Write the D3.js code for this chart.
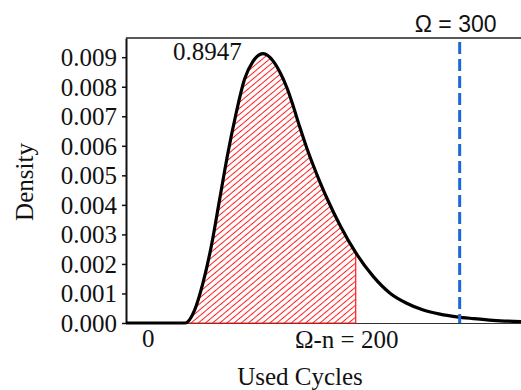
<!DOCTYPE html>
<html>
<head>
<meta charset="utf-8">
<script src="https://cdn.jsdelivr.net/npm/d3@7"></script>
<style>
  body { margin: 0; background: #fff; }
  text { fill: #111; }
</style>
</head>
<body>
<div id="chart"></div>
<script>
// values
var cycles  = [-21, 36, 45, 53, 61, 69, 77, 85, 93, 101, 111, 121, 127, 134, 140, 146, 153, 159, 166, 172, 185, 200, 217, 233, 249, 265, 281, 297, 313, 332, 359];
var density = [0, 0, 0.00044, 0.00135, 0.00259, 0.00417, 0.00575, 0.00711, 0.00825, 0.00885, 0.00912, 0.00885, 0.00850, 0.00795, 0.00733, 0.00665, 0.00592, 0.00535, 0.00474, 0.00425, 0.00330, 0.00238, 0.00157, 0.00101, 0.00067, 0.00044, 0.00030, 0.00021, 0.00015, 0.00009, 0.00005];
var yTicks = [0, 0.001, 0.002, 0.003, 0.004, 0.005, 0.006, 0.007, 0.008, 0.009];
var xTicks = [0];
var omega = 300;
var usedLimit = 200;   // Omega - n
var peakLabel = '0.8947';

var width = 521, height = 390;
var margins = {left: 126, top: 38, right: 0, bottom: 67};

var svg = d3.select('#chart').append('svg')
    .attr('width', width)
    .attr('height', height);

var x = d3.scaleLinear().domain([-21, 359]).range([margins.left, width - margins.right]);
var y = d3.scaleLinear().domain([0, 0.00965]).range([height - margins.bottom, margins.top]);

var pts = cycles.map(function(c, i) { return {c: c, d: density[i]}; });

// hatch for the used part
var defs = svg.append('defs');
var pat = defs.append('pattern')
    .attr('id', 'hatch')
    .attr('patternUnits', 'userSpaceOnUse')
    .attr('width', 4.6)
    .attr('height', 4.6)
    .attr('patternTransform', 'rotate(-40)');
pat.append('line')
    .attr('x1', 0).attr('y1', 2.3)
    .attr('x2', 4.6).attr('y2', 2.3)
    .attr('stroke', '#ff1a1a')
    .attr('stroke-width', 1);

// top frame line
svg.append('line')
    .attr('x1', x.range()[0]).attr('x2', x.range()[1])
    .attr('y1', y.range()[1]).attr('y2', y.range()[1])
    .attr('stroke', '#222')
    .attr('stroke-width', 1.5);

// x axis
var xAxis = svg.append('g')
    .attr('transform', 'translate(0,' + y(0) + ')')
    .call(d3.axisBottom(x).tickValues(xTicks).tickSize(0).tickSizeOuter(0).tickPadding(6));
xAxis.select('.domain').attr('stroke', '#333').attr('stroke-width', 1.2);
xAxis.selectAll('text')
    .style('font-family', '"Liberation Serif", "Times New Roman", serif')
    .style('font-size', '25px')
    .attr('fill', '#111');

// y axis
var yAxis = svg.append('g')
    .attr('transform', 'translate(' + x.range()[0] + ',0)')
    .call(d3.axisLeft(y).tickValues(yTicks).tickFormat(d3.format('.3f')).tickSize(4).tickSizeOuter(0).tickPadding(5));
yAxis.select('.domain').attr('stroke', '#111').attr('stroke-width', 2);
yAxis.selectAll('.tick line').attr('stroke', '#111').attr('stroke-width', 1.5);
yAxis.selectAll('text')
    .attr('dy', '0.34em')
    .style('font-family', '"Liberation Serif", "Times New Roman", serif')
    .style('font-size', '25px')
    .attr('fill', '#111');

// shaded area up to Omega - n
var used = pts.filter(function(p) { return p.c >= 36 && p.c <= usedLimit; });
var area = d3.area()
    .x(function(p) { return x(p.c); })
    .y0(y(0))
    .y1(function(p) { return y(p.d); })
    .curve(d3.curveMonotoneX);
svg.append('path')
    .datum(used)
    .attr('d', area)
    .attr('fill', 'url(#hatch)')
    .attr('stroke', '#ff1a1a')
    .attr('stroke-width', 1.2);

// density curve
var line = d3.line()
    .x(function(p) { return x(p.c); })
    .y(function(p) { return y(p.d); })
    .curve(d3.curveMonotoneX);
svg.append('path')
    .datum(pts)
    .attr('d', line)
    .attr('fill', 'none')
    .attr('stroke', '#000')
    .attr('stroke-width', 3.2)
    .attr('stroke-linejoin', 'round');

// Omega line
svg.append('line')
    .attr('x1', x(omega)).attr('x2', x(omega))
    .attr('y1', y.range()[1] + 4).attr('y2', y(0))
    .attr('stroke', '#1a6ad6')
    .attr('stroke-width', 3)
    .attr('stroke-dasharray', '12,5');

var serif = '"Liberation Serif", "Times New Roman", serif';

svg.append('text')
    .attr('x', x(omega) - 4)
    .attr('y', 32)
    .attr('text-anchor', 'middle')
    .style('font-family', '"Liberation Sans", Arial, sans-serif')
    .style('font-size', '23px')
    .text('Ω = ' + omega);

svg.append('text')
    .attr('x', x(usedLimit) - 9)
    .attr('y', 348)
    .attr('text-anchor', 'middle')
    .style('font-family', serif)
    .style('font-size', '25px')
    .text('Ω-n = ' + usedLimit);

svg.append('text')
    .attr('x', 173)
    .attr('y', 60)
    .style('font-family', serif)
    .style('font-size', '25px')
    .text(peakLabel);

// axis titles
svg.append('text')
    .attr('x', 300)
    .attr('y', 385)
    .attr('text-anchor', 'middle')
    .style('font-family', serif)
    .style('font-size', '25px')
    .text('Used Cycles');

svg.append('text')
    .attr('transform', 'translate(33,182) rotate(-90)')
    .attr('text-anchor', 'middle')
    .style('font-family', serif)
    .style('font-size', '25px')
    .text('Density');
</script>
</body>
</html>
